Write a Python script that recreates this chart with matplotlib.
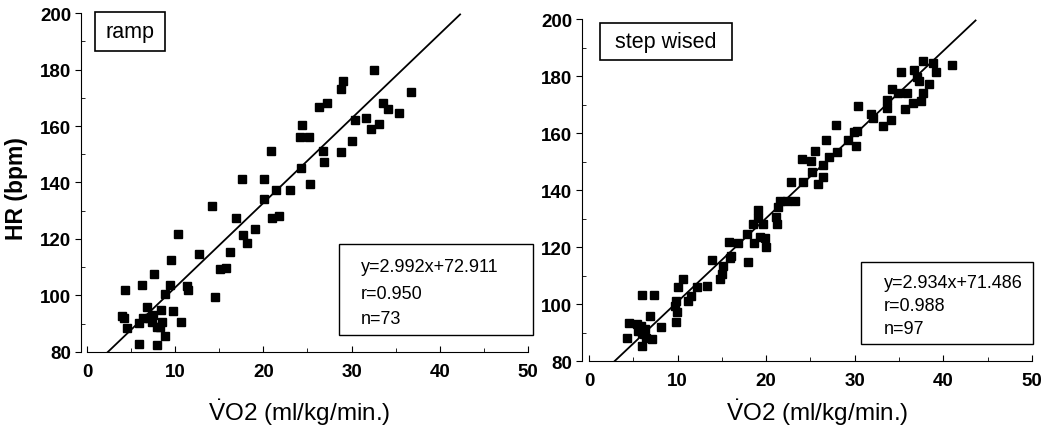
import matplotlib

matplotlib.use("Agg")
import matplotlib.pyplot as plt
from matplotlib.patches import Rectangle
from matplotlib.ticker import MultipleLocator
import numpy as np

plt.rcParams["font.family"] = ["Liberation Sans", "DejaVu Sans"]
plt.rcParams["mathtext.fontset"] = "custom"
plt.rcParams["mathtext.rm"] = "Liberation Sans"
plt.rcParams["mathtext.it"] = "Liberation Sans"

# --- data ------------------------------------------------------------------
ramp_x = [14.19, 16.87, 10.27, 17.70, 19.03, 18.15, 12.72, 16.19, 15.06, 15.82,
          9.51, 7.55, 4.34, 6.26, 9.37, 8.83, 11.36, 11.44, 14.50, 6.76,
          8.41, 9.74, 3.93, 4.19, 4.56, 5.89, 6.38, 7.02, 7.44, 7.33,
          7.89, 8.46, 8.23, 10.65, 8.80, 5.85, 7.93,
          32.50, 29.03, 28.84, 27.26, 26.31, 36.73, 33.56, 34.12, 35.41, 30.35,
          31.68, 33.10, 32.20, 24.38, 24.12, 25.18, 30.08, 20.87, 26.73, 28.77,
          26.84, 24.27, 17.63, 20.08, 25.25, 21.40, 23.07, 20.08, 20.99, 21.78]
ramp_y = [131.6, 127.3, 121.6, 121.4, 123.4, 118.7, 114.6, 115.4, 109.5, 109.6,
          112.7, 107.6, 102.1, 103.6, 103.6, 100.7, 103.2, 102.0, 99.6, 96.0,
          94.8, 94.6, 92.6, 92.0, 88.6, 90.2, 92.2, 92.0, 93.2, 90.5,
          88.8, 90.5, 88.9, 90.5, 85.7, 82.7, 82.5,
          179.8, 176.1, 173.0, 168.3, 166.9, 172.0, 168.1, 166.1, 164.7, 162.2,
          162.9, 160.8, 158.8, 160.3, 156.2, 156.2, 154.8, 151.0, 151.0, 150.8,
          147.1, 145.3, 141.4, 141.4, 139.3, 137.3, 137.3, 134.2, 127.5, 128.3]

step_x = [37.73, 41.00, 38.79, 39.16, 35.25, 36.68, 36.99, 37.25, 38.37, 37.66,
          37.47, 36.60, 35.67, 35.93, 34.23, 34.91, 33.60, 33.67, 34.05, 33.22,
          30.39, 31.79, 32.09, 27.88, 30.28, 29.91, 29.20, 30.10, 26.72, 25.51,
          27.96, 27.12, 24.04, 25.06, 26.38, 25.14, 26.38, 22.80, 24.19, 25.88,
          21.56, 23.25, 21.37, 21.11, 19.11, 22.31,
          19.11, 21.18, 18.54, 19.67, 19.86, 19.30, 18.62, 19.98, 17.98, 17.87,
          16.85, 15.84, 16.03, 15.91, 15.09, 14.98, 14.79, 13.85, 13.28, 12.22,
          10.64, 10.08, 11.51, 11.21, 9.79, 9.71, 9.90, 9.79, 5.95, 7.37,
          6.88, 8.13, 7.14, 6.02, 4.26, 4.51, 5.38, 5.87, 5.56, 6.32,
          5.95, 6.24, 6.40]
step_y = [185.4, 184.0, 184.5, 181.3, 181.5, 182.2, 179.5, 178.4, 177.2, 174.0,
          171.3, 170.4, 168.4, 174.0, 175.4, 174.0, 171.6, 168.8, 164.6, 162.6,
          169.6, 166.7, 165.3, 162.8, 160.8, 160.2, 157.5, 155.4, 157.6, 153.7,
          153.4, 151.5, 150.9, 150.1, 148.9, 146.2, 144.7, 142.9, 142.9, 142.1,
          136.2, 136.2, 133.9, 130.4, 133.0, 136.2,
          130.1, 128.1, 128.1, 128.1, 123.1, 123.4, 121.3, 120.1, 114.6, 124.6,
          121.3, 121.6, 116.9, 116.0, 113.4, 110.5, 108.8, 115.4, 106.4, 106.1,
          108.8, 105.9, 102.9, 101.2, 101.2, 99.4, 97.1, 93.8, 103.2, 103.2,
          95.9, 91.8, 87.7, 85.4, 88.0, 93.3, 93.0, 92.4, 90.6, 91.2,
          89.7, 89.5, 88.0]

ramp_fit = (2.992, 72.911)
step_fit = (2.934, 71.486)
ramp_stats = ["y=2.992x+72.911", "r=0.950", "n=73"]
step_stats = ["y=2.934x+71.486", "r=0.988", "n=97"]
xlabel = r"$\dot{\mathrm{V}}$O2 (ml/kg/min.)"


def draw_panel(ax, xs, ys, fit, name, stats, name_box, stats_box, stat_ys, xmin):
    a, b = fit
    ax.plot(xs, ys, "s", color="black", markersize=5.5, linestyle="none")
    lx = np.array([(80 - b) / a, (199.5 - b) / a])
    ax.plot(lx, a * lx + b, color="black", lw=1.3)

    ax.set_xlim(xmin, 50)
    ax.set_ylim(80, 200)
    ax.spines["top"].set_visible(False)
    ax.spines["right"].set_visible(False)
    ax.spines["bottom"].set_bounds(0, 50)
    ax.xaxis.set_major_locator(MultipleLocator(10))
    ax.xaxis.set_minor_locator(MultipleLocator(5))
    ax.yaxis.set_major_locator(MultipleLocator(20))
    ax.yaxis.set_minor_locator(MultipleLocator(10))
    ax.tick_params(axis="x", which="major", direction="in", length=4, pad=8,
                   labelsize=13.5)
    ax.tick_params(axis="x", which="minor", direction="in", length=3)
    ax.tick_params(axis="y", which="major", direction="out", length=4, pad=3,
                   labelsize=13.5)
    ax.tick_params(axis="y", which="minor", direction="in", length=3)
    for lab in ax.get_xticklabels() + ax.get_yticklabels():
        lab.set_fontweight("bold")

    x0, y0, x1, y1 = name_box
    ax.add_patch(Rectangle((x0, y0), x1 - x0, y1 - y0, transform=ax.transAxes,
                           fill=False, lw=1.2, ec="black", clip_on=False))
    ax.text((x0 + x1) / 2, (y0 + y1) / 2, name, transform=ax.transAxes,
            ha="center", va="center", fontsize=15.5)

    x0, y0, x1, y1 = stats_box
    ax.add_patch(Rectangle((x0, y0), x1 - x0, y1 - y0, transform=ax.transAxes,
                           fill=False, lw=1.0, ec="black", clip_on=False))
    for s, ty in zip(stats, stat_ys):
        ax.text(x0 + 0.05, ty, s, transform=ax.transAxes, ha="left",
                va="center", fontsize=13)


fig = plt.figure(figsize=(10.46, 4.31), dpi=100)
ax1 = fig.add_axes([0.0774, 0.181, 0.4273, 0.7865])
ax2 = fig.add_axes([0.5564, 0.160, 0.4302, 0.7935])

draw_panel(ax1, ramp_x, ramp_y, ramp_fit, "ramp", ramp_stats,
           (0.031, 0.888, 0.188, 1.003), (0.577, 0.050, 1.011, 0.319),
           (0.251, 0.174, 0.100), -0.68)
draw_panel(ax2, step_x, step_y, step_fit, "step wised", step_stats,
           (0.040, 0.880, 0.333, 0.988), (0.620, 0.050, 1.002, 0.289),
           (0.231, 0.161, 0.094), -0.79)

fig.text(0.016, 0.562, "HR (bpm)", rotation=90, ha="center", va="center",
         fontsize=16.5, fontweight="bold")
fig.text(0.286, 0.042, xlabel, ha="center", va="center", fontsize=17.5)
fig.text(0.781, 0.042, xlabel, ha="center", va="center", fontsize=17.5)

fig.savefig("out.png", dpi=100)
